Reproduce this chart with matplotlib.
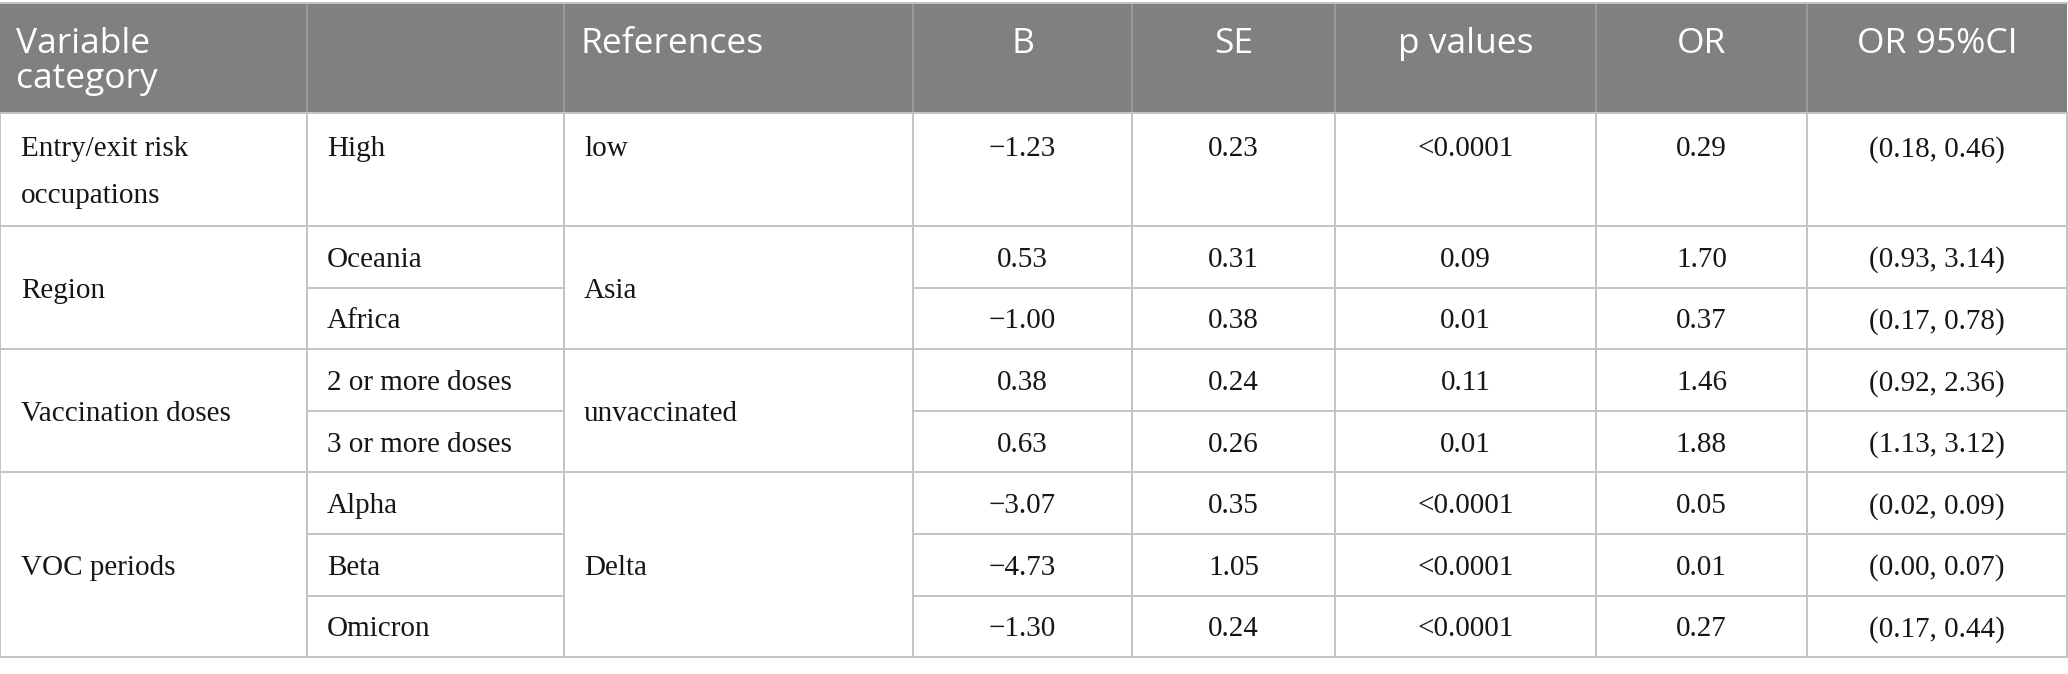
import matplotlib
matplotlib.use("Agg")
import matplotlib.pyplot as plt
from matplotlib.patches import Rectangle

# ---------------- data ----------------
headers = [["Variable", "category"], [], ["References"], ["B"], ["SE"], ["p values"], ["OR"], ["OR 95%CI"]]
categories = [["Entry/exit risk", "occupations"], ["Region"], ["Vaccination doses"], ["VOC periods"]]
group_sizes = [1, 2, 2, 3]
references = ["low", "Asia", "unvaccinated", "Delta"]
levels = ["High", "Oceania", "Africa", "2 or more doses", "3 or more doses",
          "Alpha", "Beta", "Omicron"]
B_values = [-1.23, 0.53, -1.00, 0.38, 0.63, -3.07, -4.73, -1.30]
SE_values = [0.23, 0.31, 0.38, 0.24, 0.26, 0.35, 1.05, 0.24]
p_values = ["<0.0001", "0.09", "0.01", "0.11", "0.01", "<0.0001", "<0.0001", "<0.0001"]
OR_values = [0.29, 1.70, 0.37, 1.46, 1.88, 0.05, 0.01, 0.27]
CI_low = [0.18, 0.93, 0.17, 0.92, 1.13, 0.02, 0.00, 0.17]
CI_high = [0.46, 3.14, 0.78, 2.36, 3.12, 0.09, 0.07, 0.44]

# ---------------- layout ----------------
W, H = 2068, 674
col_edges = [0, 307, 564, 913, 1132, 1335, 1596, 1807, 2067]
header_top, header_bot = 3, 113
first_row_h = 113
row_h = 61.6
HEADER_BG = "#7f807f"
HEADER_LINE = "#9c9d9c"
GRID = "#c4c4c4"
BODY_COLOR = "#161616"
header_font = ["Open Sans", "DejaVu Sans"]
body_font = ["Liberation Serif", "DejaVu Serif"]
HFS = 25.5
BFS = 21
HEADER_LINE_GAP = 35
BODY_LINE_GAP = 47

def fmt(v):
    return f"{v:.2f}".replace("-", "\u2212")

fig = plt.figure(figsize=(W / 100, H / 100), dpi=100)
ax = fig.add_axes([0, 0, 1, 1])
ax.set_xlim(0, W)
ax.set_ylim(H, 0)
ax.axis("off")

n_rows = len(levels)
row_edges = [header_bot, header_bot + first_row_h]
for i in range(1, n_rows):
    row_edges.append(row_edges[-1] + row_h)

# header
ax.add_patch(Rectangle((col_edges[0], header_top), col_edges[-1] - col_edges[0],
                       header_bot - header_top, facecolor=HEADER_BG, edgecolor="none", zorder=1))
for x in col_edges[1:-1]:
    ax.plot([x, x], [header_top, header_bot], color=HEADER_LINE, lw=1.2, zorder=2)
ax.plot([col_edges[0], col_edges[-1]], [header_top, header_top], color=GRID, lw=1.4, zorder=2)

for j, lines in enumerate(headers):
    if j in (0, 2):
        x = col_edges[j] + 16
        ha = "left"
    else:
        x = (col_edges[j] + col_edges[j + 1]) / 2
        ha = "center"
    for k, line in enumerate(lines):
        ax.text(x, 40 + k * HEADER_LINE_GAP, line, ha=ha, va="center_baseline", color="white",
                fontsize=HFS, family=header_font, zorder=3)

# body grid lines
group_starts = []
r = 0
for g in group_sizes:
    group_starts.append(r)
    r += g
group_bounds = set(group_starts + [n_rows])
for k in range(n_rows + 1):
    y = row_edges[k]
    if k in group_bounds:
        ax.plot([col_edges[0], col_edges[-1]], [y, y], color=GRID, lw=1.4, zorder=2)
    else:
        ax.plot([col_edges[1], col_edges[2]], [y, y], color=GRID, lw=1.4, zorder=2)
        ax.plot([col_edges[3], col_edges[-1]], [y, y], color=GRID, lw=1.4, zorder=2)
for x in col_edges:
    ax.plot([x, x], [row_edges[0], row_edges[-1]], color=GRID, lw=1.4, zorder=2)

def row_text_y(i):
    if i == 0:
        return row_edges[0] + 33
    return (row_edges[i] + row_edges[i + 1]) / 2

def body_text(x, y, s, ha="left"):
    ax.text(x, y, s, ha=ha, va="center_baseline", fontsize=BFS,
            family=body_font, color=BODY_COLOR, zorder=3)

# merged cells: category and reference
for gi, (cat, ref, g) in enumerate(zip(categories, references, group_sizes)):
    s = group_starts[gi]
    yc = (row_edges[s] + row_edges[s + g]) / 2
    n = len(cat)
    y0 = yc - (n - 1) * BODY_LINE_GAP / 2
    for k, line in enumerate(cat):
        body_text(col_edges[0] + 21, y0 + k * BODY_LINE_GAP, line)
    yr = row_text_y(0) if gi == 0 else yc
    body_text(col_edges[2] + 20, yr, ref)

for i in range(n_rows):
    y = row_text_y(i)
    body_text(col_edges[1] + 20, y, levels[i])
    cells = [fmt(B_values[i]), fmt(SE_values[i]), p_values[i], fmt(OR_values[i]),
             f"({fmt(CI_low[i])}, {fmt(CI_high[i])})"]
    for j, c in enumerate(cells, start=3):
        body_text((col_edges[j] + col_edges[j + 1]) / 2, y, c, ha="center")

fig.savefig("out.png", dpi=100, facecolor="white")
